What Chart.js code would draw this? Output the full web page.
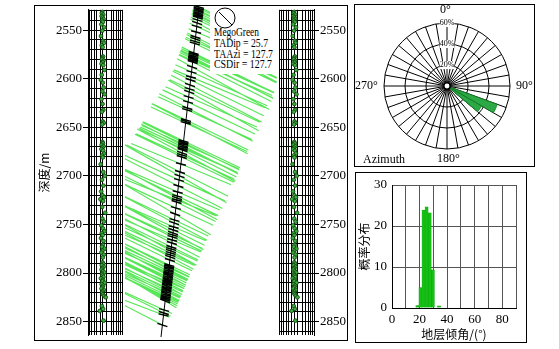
<!DOCTYPE html>
<html><head><meta charset="utf-8">
<script src="https://cdn.jsdelivr.net/npm/chart.js@4.4.1/dist/chart.umd.min.js"></script>
<style>
body{margin:0;background:#fff;width:559px;height:349px;position:relative;overflow:hidden;font-family:"Liberation Serif","Noto Sans CJK SC",serif;}
canvas{position:absolute;}
.frame{position:absolute;border:1px solid #000;box-sizing:border-box;pointer-events:none;}
.lbl{position:absolute;font-family:"Liberation Serif",serif;font-size:12px;line-height:12px;color:#000;white-space:nowrap;}
</style></head><body>
<canvas id="trackL" width="93" height="335" style="left:34px;top:5px"></canvas>
<canvas id="mid" width="152" height="335" style="left:125px;top:5px"></canvas>
<canvas id="trackR" width="72" height="335" style="left:275px;top:5px"></canvas>
<svg style="position:absolute;left:210px;top:5px" width="67" height="69">
  <rect x="0" y="0" width="67" height="69" fill="#fff"/>
  <circle cx="15" cy="13" r="10" fill="none" stroke="#000" stroke-width="1"/>
  <line x1="9" y1="7" x2="22" y2="20" stroke="#000" stroke-width="1"/>
  <g font-family="Liberation Serif" font-size="12" fill="#000">
    <text x="4" y="31" textLength="45" lengthAdjust="spacingAndGlyphs">MegoGreen</text>
    <text x="4" y="42" textLength="54" lengthAdjust="spacingAndGlyphs">TADip = 25.7</text>
    <text x="4" y="52.5" textLength="59" lengthAdjust="spacingAndGlyphs">TAAzi = 127.7</text>
    <text x="4" y="63" textLength="58" lengthAdjust="spacingAndGlyphs">CSDir = 127.7</text>
  </g>
</svg>
<div class="frame" style="left:34px;top:5px;width:314px;height:336px"></div>

<canvas id="rose" width="134" height="139" style="left:380px;top:17px"></canvas>
<div class="frame" style="left:354px;top:4px;width:181px;height:163px"></div>
<div class="lbl" style="left:440px;top:3px">0°</div>
<div class="lbl" style="left:516px;top:79px">90°</div>
<div class="lbl" style="left:355px;top:79px">270°</div>
<div class="lbl" style="left:437px;top:152px">180°</div>
<div class="lbl" style="left:363px;top:153px">Azimuth</div>

<canvas id="hist" width="171" height="170" style="left:355px;top:172px"></canvas>
<div class="frame" style="left:355px;top:172px;width:172px;height:171px"></div>

<script>
// ---------------- data ----------------
const depthMin = 2529, depthMax = 2864;
const depthLabels = [2550, 2600, 2650, 2700, 2750, 2800, 2850];
const depthGrid = [2530,2540,2550,2560,2570,2580,2590,2600,2610,2620,2630,2640,2650,2660,2670,2680,2690,2700,2710,2720,2730,2740,2750,2760,2770,2780,2790,2800,2810,2820,2830,2840,2850,2860];
const trackGrid = [0, 3.2, 6.5, 11.4, 15.4, 21.1, 25.9, 31.6, 40.5, 45.4, 49.5, 53.5, 57.6, 60];

const eventDepth = [
 2531,2532.5,2534,2535.5,2537,2538.5,2540,2541.5,
 2544,2547,2550.5,
 2556,2561,2563,2565.5,2567.5,
 2577,2578.5,2580,2581.5,2583,2584.5,2586,
 2591,2596,2601,2604,2609,2613,2616,2621,2626,
 2632,2634,
 2644,2645.5,2647,
 2665,2666.5,2668,2669.5,2671,2672.5,2674,
 2677,2679,2681,
 2688,2696,2700,2704,2710,2716,2720,2722,2724,2726,2732,2738,
 2744,2747,2751,2754,
 2757,2759,2761,2764,2767,
 2771,2773,2775,2777,2779,2781,2784,
 2789,2790.5,2792,2793.5,2795,2796.5,2798,2799.5,2801,2802.5,2804,2805.5,2807,2808.5,2810,2811.5,2813,2814.5,2816,2817.5,2819,2820.5,2822,2823.5,2825,
 2834,2837,2839,2849
];
const eventDip = [
 25.1,24.3,26.8,23.9,25.6,27.2,24.8,26.1,
 23.5,28.4,25.0,
 22.8,26.5,27.9,24.2,25.7,
 26.3,25.2,24.6,27.1,25.9,23.8,26.7,
 28.8,24.1,22.6,26.0,27.4,25.3,29.2,23.7,25.5,
 26.9,24.4,
 25.8,27.6,24.9,
 25.4,26.2,24.0,27.3,25.1,23.6,26.6,
 28.1,24.7,25.9,
 22.4,26.8,29.6,24.5,27.0,23.2,25.6,28.3,21.8,26.4,24.8,30.2,
 25.3,27.7,23.4,26.1,
 28.9,24.2,25.7,22.9,27.2,
 26.0,24.6,29.1,25.2,23.5,27.8,25.9,
 25.5,26.9,24.3,27.5,25.0,23.9,26.4,28.6,24.7,25.8,27.1,22.7,26.2,25.4,29.4,24.1,26.7,25.3,23.8,27.9,25.6,24.9,26.3,28.2,31.0,
 24.4,26.5,20.8,27.3
];
// well trajectory (x in units of the middle track)
const wellDepth = [2531, 2861];
const wellX = [74, 36];
// extent of the dip lines left / right of the well, by depth
const extentDepth = [2529, 2560, 2582, 2614, 2645, 2670, 2700, 2743, 2774, 2787, 2823, 2849, 2864];
const extentLeft  = [-5, -8, -13, -20, -34, -42, -55, -70, -80, -85, -90, -95, -95];
const extentRight = [85, 82, 80, 70, 62, 55, 47, 34, 26, 21, 12, 2, 0];

const roseValues = [0,0,0,0,0,0,0,0,0,0,0,51,38,0,0,0,0,0,0,0,0,0,0,0,0,0,0,0,0,0,0,0,0,0,0,0];
const roseLabels = Array.from({length:36}, (_, i) => String(i * 10));

const histCenters = [18.375, 20.625, 22.875, 25.125, 27.375, 29.625, 31.875, 34.125];
const histValues  = [0.6, 5, 23.9, 24.7, 23.2, 9.3, 0, 0.5];

// ---------------- helpers ----------------
function interp(xs, ys, x) {
  if (x <= xs[0]) return ys[0];
  for (let i = 1; i < xs.length; i++) {
    if (x <= xs[i]) { const t = (x - xs[i-1]) / (xs[i] - xs[i-1]); return ys[i-1] + t * (ys[i] - ys[i-1]); }
  }
  return ys[ys.length - 1];
}
const serif = "'Liberation Serif', serif";
const cjk = "'Noto Sans CJK SC', sans-serif";
const baseOpts = { animation:false, responsive:false, events:[], plugins:{legend:{display:false}, tooltip:{enabled:false}} };

function trackChart(id, side) {
  return new Chart(document.getElementById(id), {
    type: 'scatter',
    data: { datasets: [{ data: eventDepth.map((d, i) => ({x: eventDip[i], y: d})), pointStyle: 'circle', pointRadius: 1.9,
                         backgroundColor: '#3aad3a', borderColor: '#0d3d0d', borderWidth: 0.8 }] },
    options: Object.assign({}, baseOpts, {
      layout: { padding: side === 'left' ? {right: 2} : {left: 2} },
      scales: {
        x: { type: 'linear', min: 0, max: 60, position: 'bottom',
             afterBuildTicks: s => { s.ticks = trackGrid.map(v => ({value: v})); },
             ticks: { display: false }, grid: { color: '#000', lineWidth: 1, drawTicks: false }, border: { display: false },
             afterFit: s => { s.height = 0; s.paddingLeft = 0; s.paddingRight = 0; } },
        y: { type: 'linear', min: depthMin, max: depthMax, reverse: true, position: side,
             afterBuildTicks: s => { s.ticks = depthGrid.map(v => ({value: v})); },
             ticks: { autoSkip: false, padding: 1, color: '#000', font: {family: serif, size: 13},
                      callback: v => depthLabels.includes(v) ? String(v) : '' },
             grid: { color: '#000', lineWidth: 1, tickLength: 5,
                     tickColor: ctx => (ctx.tick && depthLabels.includes(ctx.tick.value)) ? '#000' : 'rgba(0,0,0,0)' },
             border: { display: true, color: '#000' },
             title: side === 'left' ? { display: true, text: '深度/m', color: '#000', font: {family: cjk, size: 12}, padding: {top: 3, bottom: 0} } : { display: false },
             afterFit: s => { s.width = side === 'left' ? 54 : 33; s.paddingTop = 0; s.paddingBottom = 0; } }
      }
    })
  });
}
trackChart('trackL', 'left');
trackChart('trackR', 'right');

// middle: dip lines, well path and event ticks
const linePts = [], tickPts = [];
eventDepth.forEach((d, i) => {
  const s = Math.tan(eventDip[i] * Math.PI / 180);
  const wx = interp(wellDepth, wellX, d);
  const L = interp(extentDepth, extentLeft, d), R = interp(extentDepth, extentRight, d);
  linePts.push({x: wx + L, y: d + L * s}, {x: wx + R, y: d + R * s}, {x: NaN, y: NaN});
  tickPts.push({x: wx - 5, y: d - 5 * s * 0.6}, {x: wx + 5, y: d + 5 * s * 0.6}, {x: NaN, y: NaN});
});
new Chart(document.getElementById('mid'), {
  type: 'scatter',
  data: { datasets: [
    { data: tickPts, showLine: true, pointRadius: 0, borderColor: '#000', borderWidth: 1.4, spanGaps: false },
    { data: wellDepth.map((d, i) => ({x: wellX[i], y: d})), showLine: true, pointRadius: 0, borderColor: '#000', borderWidth: 1 },
    { data: linePts, showLine: true, pointRadius: 0, borderColor: 'rgba(10,220,10,0.68)', borderWidth: 1.15, spanGaps: false }
  ]},
  options: Object.assign({}, baseOpts, {
    layout: { padding: 0 },
    scales: {
      x: { type: 'linear', min: 0, max: 152, display: false },
      y: { type: 'linear', min: depthMin, max: depthMax, reverse: true, display: false }
    }
  })
});

// rose diagram
const holePlugin = { id: 'hole', afterDraw(chart) {
  const r = chart.scales.r, c = chart.ctx;
  c.save(); c.beginPath(); c.arc(r.xCenter, r.yCenter, 3.2, 0, Math.PI*2);
  c.fillStyle = '#fff'; c.fill(); c.lineWidth = 1.5; c.strokeStyle = '#000'; c.stroke(); c.restore();
}};
new Chart(document.getElementById('rose'), {
  type: 'polarArea',
  data: { labels: roseLabels, datasets: [{ data: roseValues, backgroundColor: '#2ca844', borderColor: '#0e7a22', borderWidth: 0.8 }] },
  options: Object.assign({}, baseOpts, {
    layout: { padding: 0 },
    scales: { r: { min: 0, max: 60, startAngle: 0,
      ticks: { stepSize: 20, color: '#000', font: {family: serif, size: 8}, showLabelBackdrop: true, backdropColor: '#fff', backdropPadding: 0, callback: v => v + '%' },
      grid: { circular: true, color: '#000', lineWidth: 1 },
      angleLines: { display: true, color: '#000', lineWidth: 1 },
      pointLabels: { display: false } } }
  }),
  plugins: [holePlugin]
});

// histogram
new Chart(document.getElementById('hist'), {
  type: 'bar',
  data: { datasets: [{ data: histCenters.map((c, i) => ({x: c, y: histValues[i]})), backgroundColor: '#14c014', borderColor: '#0a9a0a', borderWidth: 0.5, barPercentage: 1, categoryPercentage: 1 }] },
  options: Object.assign({}, baseOpts, {
    layout: { padding: {top: 13, right: 10, left: 0, bottom: 0} },
    scales: {
      x: { type: 'linear', min: 0, max: 90, offset: false,
           ticks: { stepSize: 10, autoSkip: false, maxRotation: 0, padding: 4, color: '#000', font: {family: serif, size: 13}, callback: v => (v % 20 === 0 && v < 90) ? String(v) : '' },
           grid: { color: '#555', drawTicks: false, offset: false }, border: { color: '#000' },
           title: { display: true, text: '地层倾角/(°)', color: '#000', font: {family: cjk, size: 12}, padding: {top: 0, bottom: 0} },
           afterFit: s => { s.height = 34; s.paddingLeft = 0; s.paddingRight = 0; } },
      y: { min: 0, max: 30,
           ticks: { stepSize: 10, padding: 5, color: '#000', font: {family: serif, size: 13} },
           grid: { color: '#555', drawTicks: false }, border: { color: '#000' },
           title: { display: true, text: '概率分布', color: '#000', font: {family: cjk, size: 12}, padding: {top: 2, bottom: 0} },
           afterFit: s => { s.width = 37; s.paddingTop = 0; s.paddingBottom = 0; } }
    }
  })
});
</script>
</body></html>
